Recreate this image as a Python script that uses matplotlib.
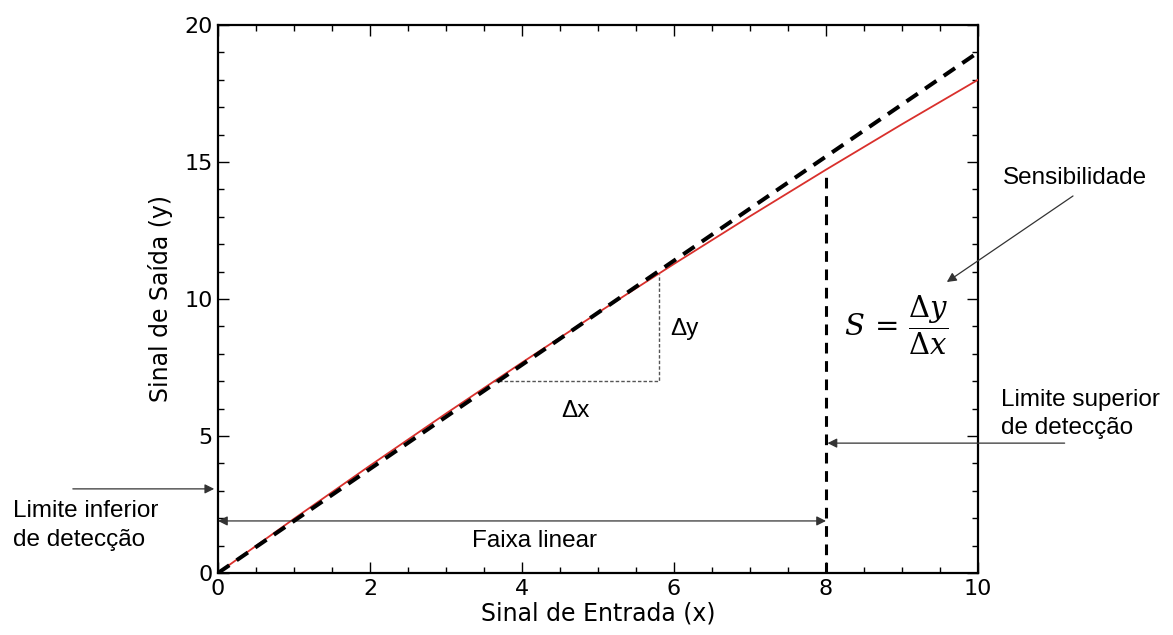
import matplotlib
matplotlib.use("Agg")
import matplotlib.pyplot as plt
from matplotlib.ticker import MultipleLocator

# Ideal (linear) response and measured response
ideal_x = [0, 10]
ideal_y = [0, 19]
resp_x = [0, 1, 2, 3, 4, 5, 6, 7, 8, 9, 10]
resp_y = [0, 1.98, 3.92, 5.82, 7.68, 9.5, 11.28, 13.02, 14.72, 16.38, 18]

# Linear range / detection limits
linear_start = 0
linear_end = 8
lower_limit_y = 3.07
upper_limit_y = 4.74
range_arrow_y = 1.9

# Slope triangle
tri_x = [3.62, 5.8]
tri_y = [7.0, 10.93]

TEXT_FONT = ["Liberation Sans", "DejaVu Sans"]
AXIS_FONT = "DejaVu Sans"
TFS = 17.5

fig = plt.figure(figsize=(11.73, 6.35), dpi=100)
ax = fig.add_axes([218 / 1173, 1 - 573 / 635, 760 / 1173, 548 / 635])

ax.plot(resp_x, resp_y, color="#d9302c", lw=1.3, zorder=3)
ax.plot(ideal_x, ideal_y, color="black", lw=2.9, ls=(0, (3.4, 2.2)), zorder=4)

# Upper detection limit marker
idx = resp_x.index(linear_end)
ax.plot([linear_end, linear_end], [0, resp_y[idx]], color="black", lw=2.2,
        ls=(0, (3.5, 2.5)), zorder=4, clip_on=False)

# Slope triangle (dotted)
ax.plot([tri_x[0], tri_x[1], tri_x[1]], [tri_y[0], tri_y[0], tri_y[1]],
        color="#555555", lw=1.0, ls=(0, (2.5, 1.5)), zorder=2)
ax.text(5.95, 8.9, "Δy", fontsize=TFS, family=TEXT_FONT, ha="left", va="center")
ax.text(4.7, 5.9, "Δx", fontsize=TFS, family=TEXT_FONT, ha="center", va="center")

ax.text(8.93, 9.05, r"$S\,=\,\dfrac{\Delta y}{\Delta x}$", fontsize=21,
        ha="center", va="center", math_fontfamily="dejavuserif")

arrow_kw = dict(arrowstyle="-|>", color="#333333", lw=0.9,
                mutation_scale=14, shrinkA=0, shrinkB=0)

# Linear range double arrow
ax.annotate("", xy=(linear_start, range_arrow_y), xytext=(linear_end, range_arrow_y),
            arrowprops=dict(arrowstyle="<|-|>", color="#333333", lw=0.9,
                            mutation_scale=14, shrinkA=0, shrinkB=0))
ax.text(4.17, 1.17, "Faixa linear", fontsize=TFS, family=TEXT_FONT,
        ha="center", va="center")

# Lower detection limit
ax.annotate("", xy=(-0.05, lower_limit_y), xytext=(-1.91, lower_limit_y),
            arrowprops=arrow_kw, annotation_clip=False)
ax.text(-2.7, 1.72, "Limite inferior\nde detecção", fontsize=TFS, family=TEXT_FONT,
        ha="left", va="center", linespacing=1.4)

# Upper detection limit
ax.annotate("", xy=(linear_end + 0.02, upper_limit_y), xytext=(11.14, upper_limit_y),
            arrowprops=arrow_kw, annotation_clip=False)
ax.text(10.3, 5.8, "Limite superior\nde detecção", fontsize=TFS, family=TEXT_FONT,
        ha="left", va="center", linespacing=1.4)

# Sensitivity
ax.annotate("", xy=(9.59, 10.62), xytext=(11.25, 13.76),
            arrowprops=arrow_kw, annotation_clip=False)
ax.text(11.28, 14.4, "Sensibilidade", fontsize=TFS, family=TEXT_FONT,
        ha="center", va="center")

ax.set_xlim(0, 10)
ax.set_ylim(0, 20)
ax.xaxis.set_major_locator(MultipleLocator(2))
ax.xaxis.set_minor_locator(MultipleLocator(0.5))
ax.yaxis.set_major_locator(MultipleLocator(5))
ax.yaxis.set_minor_locator(MultipleLocator(1))
ax.tick_params(which="both", direction="in", top=True, right=True, width=1.0)
ax.tick_params(which="major", length=8, labelsize=16, pad=4)
ax.tick_params(which="minor", length=4)
for lab in ax.get_xticklabels() + ax.get_yticklabels():
    lab.set_family(AXIS_FONT)
for s in ax.spines.values():
    s.set_linewidth(1.6)

ax.set_xlabel("Sinal de Entrada (x)", fontsize=17, family=AXIS_FONT, labelpad=2)
ax.set_ylabel("Sinal de Saída (y)", fontsize=17, family=AXIS_FONT, labelpad=8)

fig.savefig("out.png", dpi=100)
